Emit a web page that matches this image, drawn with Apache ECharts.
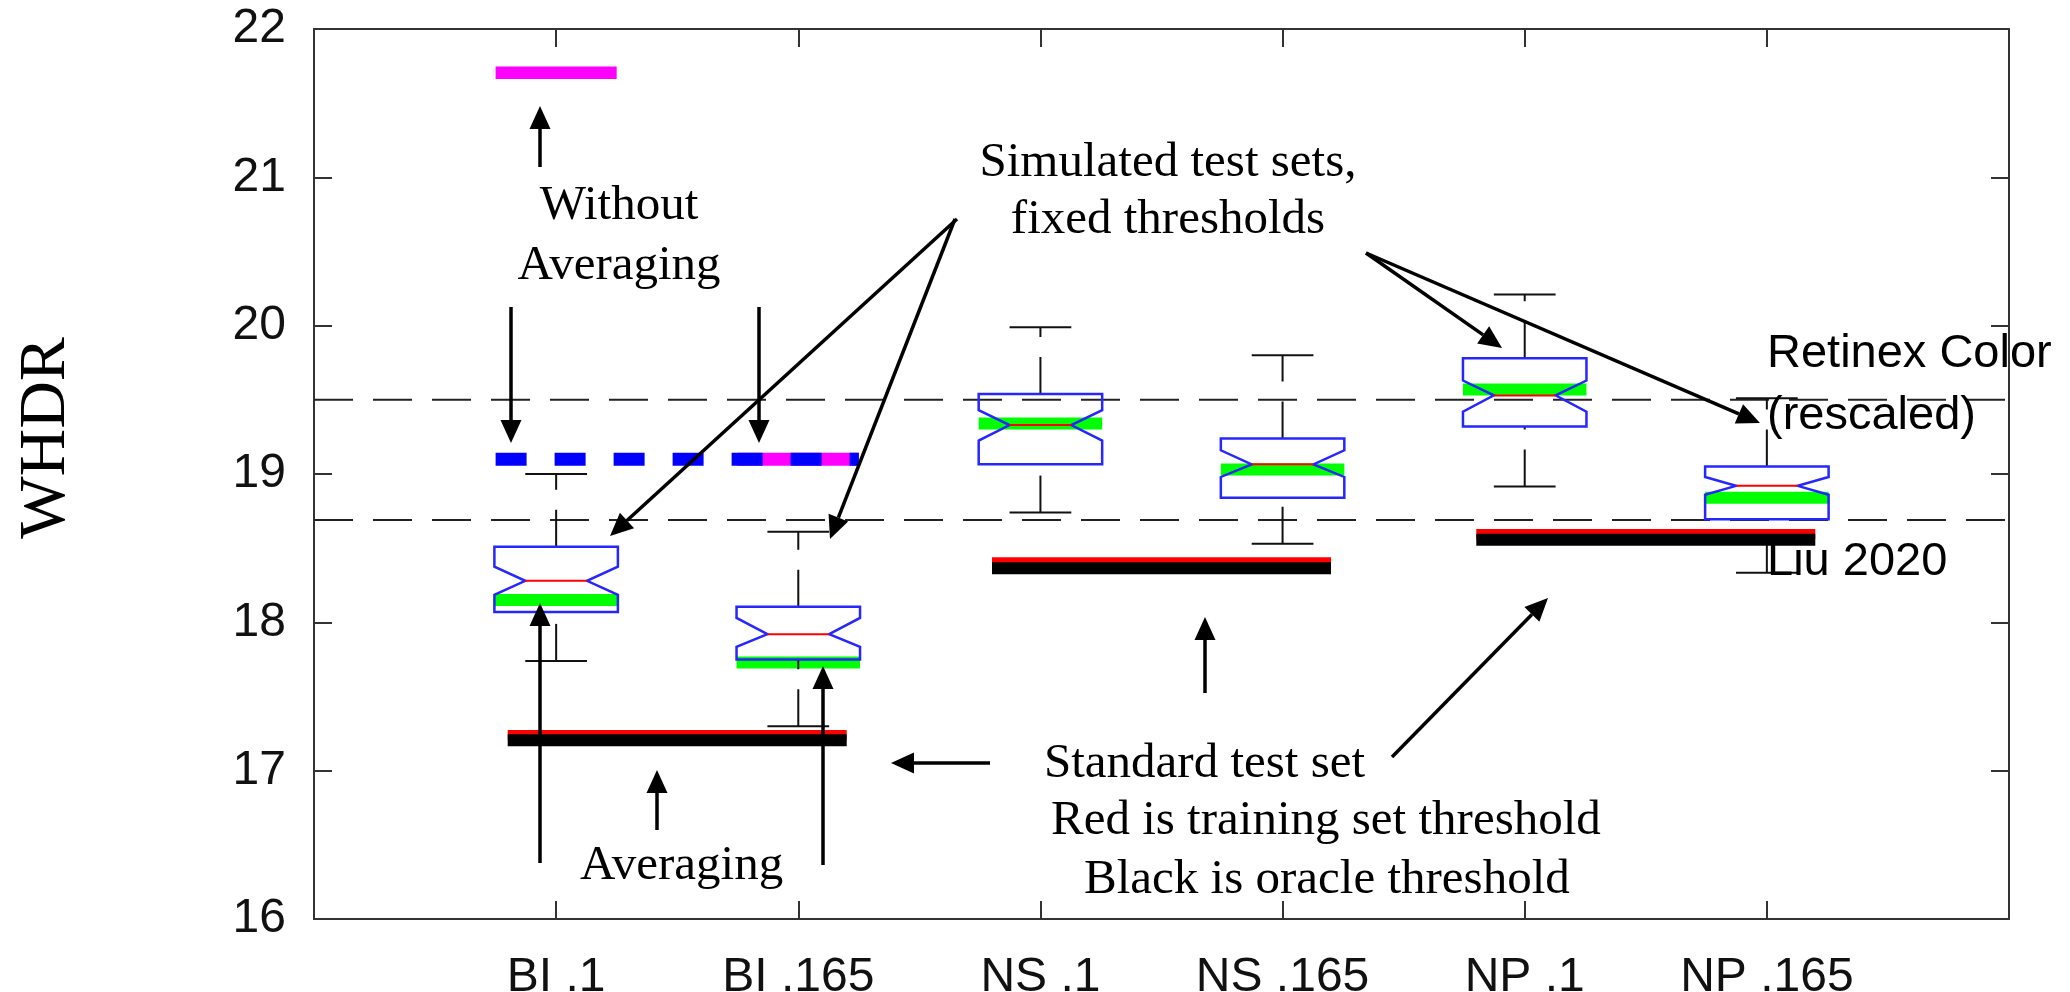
<!DOCTYPE html>
<html>
<head>
<meta charset="utf-8">
<title>WHDR notched boxplots</title>
<script src="https://cdn.jsdelivr.net/npm/echarts@6/dist/echarts.min.js"></script>
<style>
  html, body { margin: 0; padding: 0; background: #fff; }
  #chart { width: 2070px; height: 992px; }
</style>
</head>
<body>
<div id="chart"></div>
<script>
// x categories, drawn at positions 1..6 of a 0..7 value axis
const categories = ['BI .1', 'BI .165', 'NS .1', 'NS .165', 'NP .1', 'NP .165'];
const yRange = [16, 22];

// simulated test sets, fixed thresholds (notched boxes)
const whiskerLow = [17.74, 17.30, 18.74, 18.53, 18.915, 18.335];
const q1 = [18.07, 17.75, 19.065, 18.84, 19.32, 18.695];
const notchLow = [18.185, 17.835, 19.225, 18.98, 19.42, 18.86];
const median = [18.28, 17.92, 19.33, 19.065, 19.53, 18.92];
const notchHigh = [18.375, 18.03, 19.43, 19.16, 19.63, 18.98];
const q3 = [18.51, 18.105, 19.54, 19.24, 19.78, 19.05];
const whiskerHigh = [19.0, 18.61, 19.99, 19.80, 20.21, 19.51];
const greenLevel = [18.15, 17.73, 19.34, 19.03, 19.57, 18.84];

// standard test set: red = training set threshold, black = oracle threshold
const thresholdFrom = [0.8, 2.8, 4.8];
const thresholdTo = [2.2, 4.2, 6.2];
const trainThreshold = [17.24, 18.405, 18.596];
const oracleThreshold = [17.205, 18.365, 18.557];

// without averaging
const noAvgBI1 = 21.705;
const noAvgLevel = 19.1;

// reference lines
const retinexColor = 19.5;
const liu2020 = 18.69;

const SANS = '"Liberation Sans", Arial, sans-serif';
const SERIF = '"Liberation Serif", "Times New Roman", serif';

function renderNotchBox(params, api) {
  const xv = api.value(0);
  const y = (k) => api.coord([xv, api.value(k)])[1];
  const cx = api.coord([xv, api.value(4)])[0];
  const half = api.size([0.255, 0])[0];
  const notch = half / 2;
  const yLo = y(1), yQ1 = y(2), yNLo = y(3), yMed = y(4);
  const yNHi = y(5), yQ3 = y(6), yHi = y(7), yG = y(8);
  const whisker = { stroke: '#111', lineWidth: 2, lineDash: [37, 20], fill: null };
  const cap = { stroke: '#111', lineWidth: 2, fill: null };
  return {
    type: 'group',
    children: [
      { type: 'rect', shape: { x: cx - half, y: yG - 6, width: 2 * half, height: 12 }, style: { fill: '#00ff00' } },
      // dashes run upward from the lower end of each whisker
      { type: 'line', shape: { x1: cx, y1: yQ3, x2: cx, y2: yHi }, style: whisker },
      { type: 'line', shape: { x1: cx, y1: yLo, x2: cx, y2: yQ1 }, style: whisker },
      { type: 'line', shape: { x1: cx - notch, y1: yHi, x2: cx + notch, y2: yHi }, style: cap },
      { type: 'line', shape: { x1: cx - notch, y1: yLo, x2: cx + notch, y2: yLo }, style: cap },
      {
        type: 'polygon',
        shape: {
          points: [
            [cx - half, yQ3], [cx + half, yQ3], [cx + half, yNHi], [cx + notch, yMed],
            [cx + half, yNLo], [cx + half, yQ1], [cx - half, yQ1], [cx - half, yNLo],
            [cx - notch, yMed], [cx - half, yNHi]
          ]
        },
        style: { fill: null, stroke: '#2626ff', lineWidth: 2.5 }
      },
      { type: 'line', shape: { x1: cx - notch, y1: yMed, x2: cx + notch, y2: yMed }, style: { stroke: '#ff0000', lineWidth: 2 } }
    ]
  };
}

function hline(x0, x1, v, color, width, dash) {
  return {
    type: 'line',
    data: [[x0, v], [x1, v]],
    symbol: 'none',
    silent: true,
    lineStyle: { color: color, width: width, type: dash || 'solid', cap: 'butt' },
    z: 3
  };
}

// annotation helpers (pixel layout)
function arrow(x1, y1, x2, y2) {
  const a = Math.atan2(y2 - y1, x2 - x1);
  const len = 23, hw = 10.5;
  const bx = x2 - len * Math.cos(a), by = y2 - len * Math.sin(a);
  const px = -Math.sin(a) * hw, py = Math.cos(a) * hw;
  return [
    { type: 'line', z: 100, shape: { x1: x1, y1: y1, x2: bx, y2: by }, style: { stroke: '#000', lineWidth: 3.5 } },
    { type: 'polygon', z: 100, shape: { points: [[x2, y2], [bx + px, by + py], [bx - px, by - py]] }, style: { fill: '#000' } }
  ];
}

function note(text, x, baseline, size, family, align) {
  const k = family === SERIF ? 0.3375 : 0.347;
  return {
    type: 'text', z: 100, x: x, y: baseline - k * size,
    style: {
      text: text, font: size + 'px ' + family, fill: '#000',
      align: align, textAlign: align, verticalAlign: 'middle', textVerticalAlign: 'middle'
    }
  };
}

const graphics = [].concat(
  arrow(540, 167, 540, 106),
  arrow(511, 307, 511, 443),
  arrow(759, 307, 759, 443),
  arrow(957, 219, 610, 536),
  arrow(955, 219, 830, 539),
  arrow(1366, 253, 1502, 348),
  arrow(1366, 253, 1760, 423),
  arrow(540, 863, 540, 603),
  arrow(823, 865, 823, 666),
  arrow(657, 830, 657, 770),
  arrow(1205, 693, 1205, 617),
  arrow(1392, 757, 1548, 598),
  arrow(990, 763, 891, 763),
  [
    note('Without', 619, 223, 49, SERIF, 'center'),
    note('Averaging', 619, 283, 49, SERIF, 'center'),
    note('Simulated test sets,', 1168, 180, 49, SERIF, 'center'),
    note('fixed thresholds', 1168, 237, 49, SERIF, 'center'),
    note('Standard test set', 1044, 781, 49, SERIF, 'left'),
    note('Red is training set threshold', 1051, 838, 49, SERIF, 'left'),
    note('Black is oracle threshold', 1084, 897, 49, SERIF, 'left'),
    note('Averaging', 580, 883, 49, SERIF, 'left'),
    note('Retinex Color', 1767, 370, 47, SANS, 'left'),
    note('(rescaled)', 1767, 432, 47, SANS, 'left'),
    note('Liu 2020', 1767, 578, 47, SANS, 'left'),
    {
      type: 'text', z: 100, x: 47, y: 438, rotation: Math.PI / 2,
      style: {
        text: 'WHDR', font: '66px ' + SERIF, fill: '#000',
        align: 'center', textAlign: 'center', verticalAlign: 'middle', textVerticalAlign: 'middle'
      }
    }
  ]
);

const frameLine = { show: true, onZero: false, lineStyle: { color: '#333', width: 2 } };
const innerTick = { show: true, inside: true, length: 18, lineStyle: { color: '#333', width: 2 } };

const boxData = categories.map((c, i) => [
  i + 1, whiskerLow[i], q1[i], notchLow[i], median[i], notchHigh[i], q3[i], whiskerHigh[i], greenLevel[i]
]);

const series = [
  hline(0, 7, retinexColor, '#222', 2, [39, 20]),
  hline(0, 7, liu2020, '#222', 2, [39, 20]),
  {
    type: 'custom',
    renderItem: renderNotchBox,
    data: boxData,
    encode: { x: 0, y: [1, 2, 3, 4, 5, 6, 7, 8] },
    silent: true,
    z: 4
  },
  hline(0.75, 1.25, noAvgBI1, '#ff00ff', 12.5),
  hline(1.75, 2.25, noAvgLevel, '#ff00ff', 13),
  hline(0.75, 2.25, noAvgLevel, '#0000ff', 13, [31, 28])
];
thresholdFrom.forEach((x0, i) => {
  series.push(Object.assign(hline(x0, thresholdTo[i], trainThreshold[i], '#ff0000', 10), { z: 5 }));
  series.push(Object.assign(hline(x0, thresholdTo[i], oracleThreshold[i], '#000000', 12), { z: 6 }));
});

const chart = echarts.init(document.getElementById('chart'), null, { renderer: 'canvas' });
chart.setOption({
  animation: false,
  backgroundColor: '#ffffff',
  grid: { left: 314, right: 61, top: 29, bottom: 73, containLabel: false, outerBoundsMode: 'none' },
  xAxis: [
    {
      type: 'value', min: 0, max: 7, interval: 1, position: 'bottom',
      axisLine: frameLine, axisTick: innerTick, splitLine: { show: false },
      axisLabel: {
        formatter: (v) => categories[v - 1] || '',
        fontSize: 48, fontFamily: SANS, color: '#111', margin: 35
      }
    },
    {
      type: 'value', min: 0, max: 7, interval: 1, position: 'top',
      axisLine: frameLine, axisTick: innerTick, splitLine: { show: false },
      axisLabel: { show: false }
    }
  ],
  yAxis: [
    {
      type: 'value', min: yRange[0], max: yRange[1], interval: 1, position: 'left',
      axisLine: frameLine, axisTick: innerTick, splitLine: { show: false },
      axisLabel: { fontSize: 48, fontFamily: SANS, color: '#111', margin: 28, showMinLabel: true, showMaxLabel: true }
    },
    {
      type: 'value', min: yRange[0], max: yRange[1], interval: 1, position: 'right',
      axisLine: frameLine, axisTick: innerTick, splitLine: { show: false },
      axisLabel: { show: false }
    }
  ],
  series: series,
  graphic: { elements: graphics }
});

window.addEventListener('resize', () => chart.resize());
</script>
</body>
</html>
